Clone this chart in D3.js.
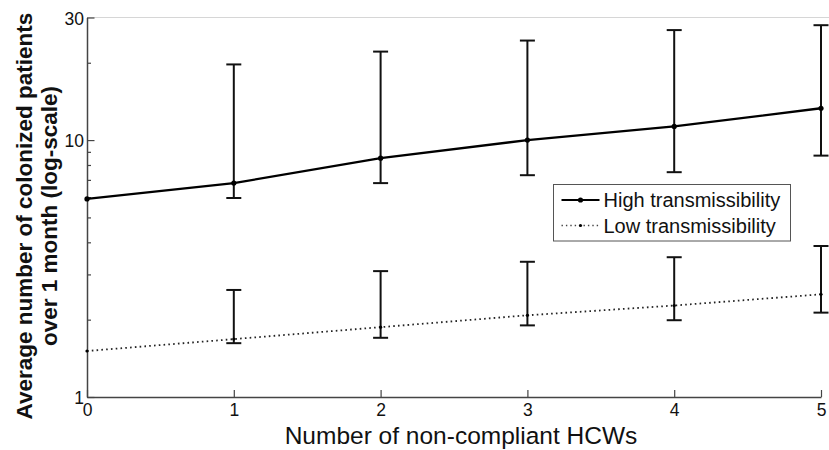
<!DOCTYPE html>
<html>
<head>
<meta charset="utf-8">
<script src="https://cdn.jsdelivr.net/npm/d3@7"></script>
<style>
  html, body { margin: 0; padding: 0; background: #fff; }
  svg { display: block; font-family: "Liberation Sans", Arial, Helvetica, sans-serif; }
</style>
</head>
<body>
<svg id="chart" width="829" height="450"></svg>
<script>
// ---- data ----
const hcws = [0, 1, 2, 3, 4, 5];
const highMean  = [5.9, 6.8, 8.5, 10.0, 11.3, 13.3];
const highUpper = [null, 19.7, 22.1, 24.4, 26.8, 28.0];
const highLower = [null, 5.95, 6.8, 7.3, 7.5, 8.7];
const lowMean   = [1.51, 1.68, 1.87, 2.08, 2.27, 2.51];
const lowUpper  = [null, 2.61, 3.09, 3.36, 3.50, 3.87];
const lowLower  = [null, 1.62, 1.70, 1.90, 1.99, 2.13];
const xTicks = [0, 1, 2, 3, 4, 5];
const yMajorTicks = [1, 10, 30];
const yMinorTicks = [2, 3, 4, 5, 6, 7, 8, 9, 20];
const seriesNames = ["High transmissibility", "Low transmissibility"];

const svg = d3.select("#chart");
const mLeft = 87, mRight = 821, mTop = 17.5, mBottom = 397;

const x = d3.scaleLinear().domain([0, 5]).range([mLeft, mRight]);
const y = d3.scaleLog().domain([1, 30]).range([mBottom, mTop]);

const axisColor = "#444";

// top box line (light)
svg.append("line")
  .attr("x1", mLeft).attr("x2", 829).attr("y1", mTop).attr("y2", mTop)
  .attr("stroke", "#d6d6d6").attr("stroke-width", 1.2);

// x axis
const xAxis = svg.append("g").attr("transform", `translate(0,${mBottom})`)
  .call(d3.axisBottom(x).tickValues(xTicks).tickFormat(d3.format("d")).tickSizeInner(-7).tickSizeOuter(0).tickPadding(0));
xAxis.select(".domain").attr("stroke", axisColor).attr("stroke-width", 1.5);
xAxis.selectAll(".tick line").attr("stroke", axisColor).attr("stroke-width", 1.2);
xAxis.selectAll(".tick text").attr("font-size", 17.5).attr("fill", "#111").attr("dy", "1.1em").attr("y", 0);

// y axis major
const yAxis = svg.append("g").attr("transform", `translate(${mLeft},0)`)
  .call(d3.axisLeft(y).tickValues(yMajorTicks).tickFormat(d3.format("d")).tickSizeInner(-7.5).tickSizeOuter(0).tickPadding(4));
yAxis.select(".domain").attr("stroke", axisColor).attr("stroke-width", 1.5);
yAxis.selectAll(".tick line").attr("stroke", axisColor).attr("stroke-width", 1.2);
yAxis.selectAll(".tick text").attr("font-size", 17.5).attr("fill", "#111").attr("x", -3).attr("dy", "0.38em");

// y axis minor
const yMinor = svg.append("g").attr("transform", `translate(${mLeft},0)`)
  .call(d3.axisLeft(y).tickValues(yMinorTicks).tickFormat("").tickSizeInner(-4).tickSizeOuter(0));
yMinor.select(".domain").remove();
yMinor.selectAll(".tick line").attr("stroke", axisColor).attr("stroke-width", 1.2);

// lines
const line = d3.line().x((d, i) => x(hcws[i])).y(d => y(d));

svg.append("path").datum(highMean)
  .attr("d", line).attr("fill", "none").attr("stroke", "#000").attr("stroke-width", 2.3);

svg.append("path").datum(lowMean)
  .attr("d", line).attr("fill", "none").attr("stroke", "#222").attr("stroke-width", 1.8)
  .attr("stroke-dasharray", "1.6,3.2");

// error bars
function errorBars(upper, lower) {
  const g = svg.append("g").attr("stroke", "#111").attr("stroke-width", 2);
  hcws.forEach((h, i) => {
    if (upper[i] == null) return;
    const cx = x(h);
    g.append("line").attr("x1", cx).attr("x2", cx).attr("y1", y(upper[i])).attr("y2", y(lower[i]));
    g.append("line").attr("x1", cx - 7.5).attr("x2", cx + 7.5).attr("y1", y(upper[i])).attr("y2", y(upper[i]));
    g.append("line").attr("x1", cx - 7.5).attr("x2", cx + 7.5).attr("y1", y(lower[i])).attr("y2", y(lower[i]));
  });
}
errorBars(highUpper, highLower);
errorBars(lowUpper, lowLower);

// markers
svg.append("g").selectAll("circle").data(highMean).join("circle")
  .attr("cx", (d, i) => x(hcws[i])).attr("cy", d => y(d)).attr("r", 2.6).attr("fill", "#000");
svg.append("g").selectAll("circle").data(lowMean).join("circle")
  .attr("cx", (d, i) => x(hcws[i])).attr("cy", d => y(d)).attr("r", 1.6).attr("fill", "#000");

// axis labels
svg.append("text")
  .attr("x", 461).attr("y", 444).attr("text-anchor", "middle")
  .attr("font-size", 24.5).attr("fill", "#111")
  .text("Number of non-compliant HCWs");

const yl = svg.append("text")
  .attr("transform", "translate(32,216) rotate(-90)")
  .attr("text-anchor", "middle").attr("font-size", 22.5).attr("font-weight", "bold").attr("fill", "#111");
yl.append("tspan").attr("x", 0).attr("y", 0).text("Average number of colonized patients");
yl.append("tspan").attr("x", 0).attr("y", 25).text("over 1 month (log-scale)");

// legend
const lg = svg.append("g");
lg.append("rect").attr("x", 553.5).attr("y", 184.5).attr("width", 237).attr("height", 56.5)
  .attr("fill", "#fff").attr("stroke", "#555").attr("stroke-width", 1);
const legY = [200, 225.5];
lg.append("line").attr("x1", 561.5).attr("x2", 599.5).attr("y1", legY[0]).attr("y2", legY[0])
  .attr("stroke", "#000").attr("stroke-width", 2);
lg.append("circle").attr("cx", 580.5).attr("cy", legY[0]).attr("r", 2.6).attr("fill", "#000");
lg.append("line").attr("x1", 561.5).attr("x2", 599.5).attr("y1", legY[1]).attr("y2", legY[1])
  .attr("stroke", "#444").attr("stroke-width", 1.5).attr("stroke-dasharray", "1.4,3");
lg.append("circle").attr("cx", 580.5).attr("cy", legY[1]).attr("r", 1.6).attr("fill", "#000");
seriesNames.forEach((n, i) => {
  lg.append("text").attr("x", 603.5).attr("y", legY[i]).attr("dy", "0.36em")
    .attr("font-size", 20).attr("fill", "#111").text(n);
});
</script>
</body>
</html>
